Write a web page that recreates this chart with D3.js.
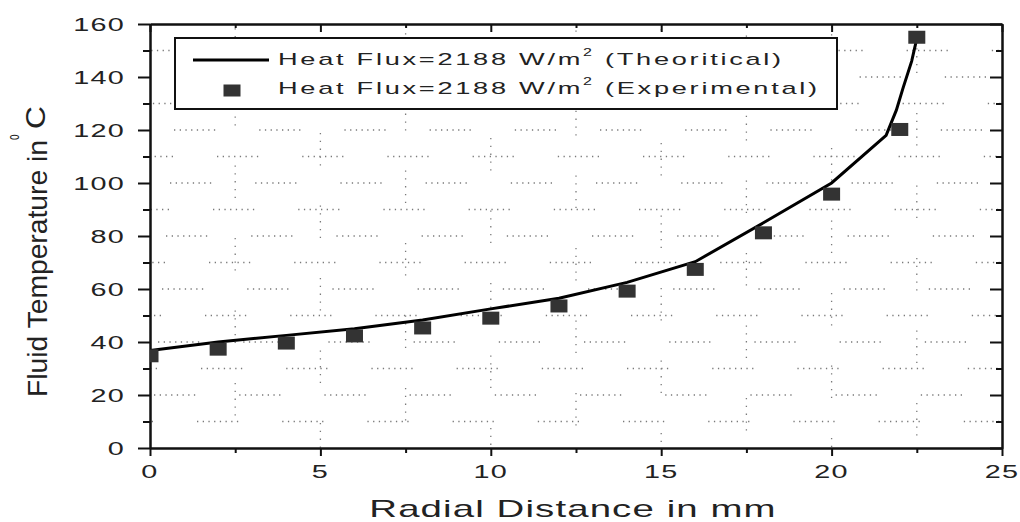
<!DOCTYPE html>
<html>
<head>
<meta charset="utf-8">
<script src="https://cdn.jsdelivr.net/npm/d3@7"></script>
<style>
  body { margin: 0; background: #fff; }
  svg text { font-family: "Liberation Sans", Arial, sans-serif; fill: #222; }
</style>
</head>
<body>
<svg id="chart" width="1020" height="522"></svg>
<script>
// experimental points
const expX = [0, 2, 4, 6, 8, 10, 12, 14, 16, 18, 20, 22, 22.5];
const expY = [34.8, 37.3, 39.6, 42.3, 45.3, 49, 53.6, 59.2, 67.4, 81.2, 95.8, 120.2, 155];

// theoretical curve
const theoX = [0, 2, 4, 6, 8, 10, 12, 14, 16, 18, 20, 21.6, 21.9, 22.1, 22.35, 22.5];
const theoY = [36.8, 40, 42.5, 45, 48.3, 52.5, 56.5, 62.5, 70.3, 85, 100, 118, 127.5, 136, 146, 154.5];

const xTicks = [0, 5, 10, 15, 20, 25];
const yTicks = [0, 20, 40, 60, 80, 100, 120, 140, 160];
const xMinor = [2.5, 7.5, 12.5, 17.5, 22.5];
const yMinor = [10, 30, 50, 70, 90, 110, 130, 150];

const legendLabels = ["(Theoritical)", "(Experimental)"];

const svg = d3.select("#chart");
const margin = { top: 24, right: 18, bottom: 74, left: 150 };
const width = 1020, height = 522;
const sx = 1.6; // text in the picture is stretched sideways

const x = d3.scaleLinear().domain([0, 25]).range([margin.left, width - margin.right]);
const y = d3.scaleLinear().domain([0, 160]).range([height - margin.bottom, margin.top]);

svg.append("clipPath").attr("id", "plot-clip")
  .append("rect")
  .attr("x", x(0)).attr("y", y(160))
  .attr("width", x(25) - x(0)).attr("height", y(0) - y(160));

// broken dotted grid
const dots = (n, step, gap) => d3.range(n).map(() => `1.3 ${step}`).join(" ") + ` 1.3 ${gap}`;
const hDash = dots(7, 4.4, 44);
const vDash = dots(4, 6.5, 40);

const grid = svg.append("g").attr("stroke", "#7a7a7a").attr("stroke-width", 1.3);
grid.selectAll(".hg")
  .data(yTicks.concat(yMinor).filter((d) => d > 0 && d < 160))
  .join("line")
  .attr("x1", x(0)).attr("x2", x(25))
  .attr("y1", (d) => y(d)).attr("y2", (d) => y(d))
  .attr("stroke-dasharray", hDash)
  .attr("stroke-dashoffset", (d) => -((d * 4.7) % 90));
grid.selectAll(".vg")
  .data(xTicks.concat(xMinor).filter((d) => d > 0 && d < 25))
  .join("line")
  .attr("y1", y(0)).attr("y2", y(160))
  .attr("x1", (d) => x(d)).attr("x2", (d) => x(d))
  .attr("stroke-dasharray", vDash)
  .attr("stroke-dashoffset", (d) => -((d * 13) % 70));

// axes
const fmt = d3.format("d");
const axisStyle = (g) => g.call((g) => g.select(".domain").attr("stroke", "#111").attr("stroke-width", 2))
  .call((g) => g.selectAll(".tick line").attr("stroke", "#111").attr("stroke-width", 2))
  .call((g) => g.selectAll("text").remove());

svg.append("g").attr("transform", `translate(0,${y(0)})`)
  .call(d3.axisBottom(x).tickValues(xTicks).tickSize(8).tickSizeOuter(0)).call(axisStyle);
svg.append("g").attr("transform", `translate(0,${y(0)})`)
  .call(d3.axisBottom(x).tickValues(xMinor).tickSize(5).tickSizeOuter(0)).call(axisStyle);
svg.append("g").attr("transform", `translate(0,${y(160)})`)
  .call(d3.axisBottom(x).tickValues(xTicks).tickSize(8).tickSizeOuter(0)).call(axisStyle);
svg.append("g").attr("transform", `translate(0,${y(160)})`)
  .call(d3.axisBottom(x).tickValues(xMinor).tickSize(4).tickSizeOuter(0)).call(axisStyle);
svg.append("g").attr("transform", `translate(${x(0)},0)`)
  .call(d3.axisLeft(y).tickValues(yTicks).tickSize(12).tickSizeOuter(0)).call(axisStyle);
svg.append("g").attr("transform", `translate(${x(0)},0)`)
  .call(d3.axisLeft(y).tickValues(yMinor).tickSize(7).tickSizeOuter(0)).call(axisStyle);
svg.append("g").attr("transform", `translate(${x(25)},0)`)
  .call(d3.axisLeft(y).tickValues(yTicks).tickSize(12).tickSizeOuter(0)).call(axisStyle);
svg.append("g").attr("transform", `translate(${x(25)},0)`)
  .call(d3.axisLeft(y).tickValues(yMinor).tickSize(6).tickSizeOuter(0)).call(axisStyle);

// tick labels
svg.append("g").selectAll("text")
  .data(xTicks).join("text")
  .attr("transform", (d) => `translate(${x(d)},478) scale(${sx},1)`)
  .attr("text-anchor", "middle").attr("font-size", 18).attr("letter-spacing", 0.8)
  .text(fmt);
svg.append("g").selectAll("text")
  .data(yTicks).join("text")
  .attr("transform", (d) => `translate(125,${y(d) + 6.5}) scale(${sx},1)`)
  .attr("text-anchor", "end").attr("font-size", 18).attr("letter-spacing", 0.8)
  .text(fmt);

// axis titles
svg.append("text")
  .attr("transform", `translate(573,517) scale(${sx},1)`)
  .attr("text-anchor", "middle").attr("font-size", 24).attr("letter-spacing", 0.7)
  .text("Radial Distance in mm");

svg.append("text")
  .attr("transform", `translate(47,397) scale(${sx},1) rotate(-90)`)
  .attr("font-size", 17)
  .attr("textLength", 257).attr("lengthAdjust", "spacingAndGlyphs")
  .text("Fluid Temperature in");
svg.append("text")
  .attr("transform", `translate(45,129) scale(${sx},1) rotate(-90)`)
  .attr("font-size", 17)
  .attr("textLength", 23).attr("lengthAdjust", "spacingAndGlyphs")
  .text("C");
svg.append("text")
  .attr("transform", `translate(19,140) scale(${sx},1) rotate(-90)`)
  .attr("font-size", 10)
  .text("o");

// data
const plot = svg.append("g").attr("clip-path", "url(#plot-clip)");
const line = d3.line().x((d) => x(d[0])).y((d) => y(d[1]));
plot.append("path")
  .datum(theoX.map((v, i) => [v, theoY[i]]))
  .attr("fill", "none").attr("stroke", "#000").attr("stroke-width", 3)
  .attr("d", line);
plot.selectAll(".pt")
  .data(expX.map((v, i) => [v, expY[i]]))
  .join("rect")
  .attr("x", (d) => x(d[0]) - 8.5).attr("y", (d) => y(d[1]) - 6.5)
  .attr("width", 17).attr("height", 13)
  .attr("fill", "#333");

// legend
const lg = svg.append("g");
lg.append("rect")
  .attr("x", 175).attr("y", 38).attr("width", 662).attr("height", 71)
  .attr("fill", "#fff").attr("stroke", "#111").attr("stroke-width", 2);
lg.append("line")
  .attr("x1", 193).attr("x2", 269).attr("y1", 60).attr("y2", 60)
  .attr("stroke", "#000").attr("stroke-width", 3);
lg.append("rect")
  .attr("x", 223.5).attr("y", 84.5).attr("width", 17).attr("height", 12)
  .attr("fill", "#333");
legendLabels.forEach((lab, i) => {
  const t = lg.append("text")
    .attr("transform", `translate(278,${65 + i * 29}) scale(${sx},1)`)
    .attr("font-size", 17).attr("letter-spacing", 1.7);
  t.append("tspan").text("Heat Flux=2188 W/m");
  t.append("tspan").attr("font-size", 10).attr("dy", -9).text("2");
  t.append("tspan").attr("dy", 9).text(" " + lab);
});
</script>
</body>
</html>
